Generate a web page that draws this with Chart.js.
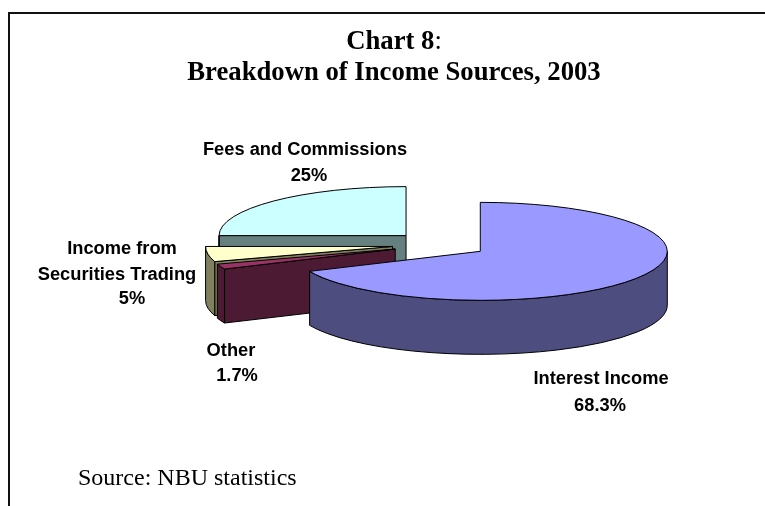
<!DOCTYPE html>
<html>
<head>
<meta charset="utf-8">
<title>Chart 8</title>
<script src="https://cdn.jsdelivr.net/npm/chart.js@4/dist/chart.umd.min.js"></script>
<style>
	html, body { margin: 0; padding: 0; background: #fff; overflow: hidden; }
	#page { position: relative; width: 765px; height: 506px; }
	#pie { position: absolute; left: 0; top: 0; }
	#frame { position: absolute; left: 8px; top: 12px; width: 757px; height: 494px;
		border-top: 2px solid #111; border-left: 2px solid #111; box-sizing: border-box; }
	#title { position: absolute; left: 0; top: 25px; width: 788px; text-align: center;
		font: 26.7px/31px "Liberation Serif", serif; color: #000; }
	#source { position: absolute; left: 78px; top: 462px;
		font: 24px/30px "Liberation Serif", serif; color: #000; }
</style>
</head>
<body>
<div id="page">
	<canvas id="pie" width="765" height="506"></canvas>
	<div id="frame"></div>
	<div id="title"><b>Chart 8</b>:<br><b>Breakdown of Income Sources, 2003</b></div>
	<div id="source">Source: NBU statistics</div>
</div>
<script>
// data, clockwise from 12 o'clock
const categories = ['Interest Income', 'Other', 'Income from Securities Trading', 'Fees and Commissions'];
const shares = [68.3, 1.7, 5, 25];
const shareLabels = ['68.3%', '1.7%', '5%', '25%'];
const topColors = ['#9999ff', '#993366', '#ffffcc', '#ccffff'];
const sideColors = ['#4d4d80', '#4d1a33', '#80805f', '#668080'];

// label lines and where each one sits (center x, baseline y)
const labelLines = [
	[['Interest Income', 601, 384], [shareLabels[0], 600, 411]],
	[['Other', 231, 356], [shareLabels[1], 237, 381]],
	[['Income from', 122, 254], ['Securities Trading', 117, 280], [shareLabels[2], 132, 304]],
	[['Fees and Commissions', 305, 155], [shareLabels[3], 309, 181]]
];

const TILT = 0.262;     // vertical squash of the pie
const EXPLODE = 48;     // how far each slice is pulled out
const DEPTH = 54;       // height of the pie walls
const DRAW_ORDER = [3, 2, 1, 0];    // back to front

function draw_slice(ctx, arc, i) {
	const mid = (arc.startAngle + arc.endAngle) / 2;
	const cx = arc.x + Math.cos(mid) * EXPLODE;
	const cy = arc.y + Math.sin(mid) * EXPLODE * TILT;
	const r = arc.outerRadius;
	const ry = r * TILT;
	const start = arc.startAngle, end = arc.endAngle;

	ctx.fillStyle = sideColors[i];
	ctx.strokeStyle = '#000';
	ctx.lineWidth = 1;
	ctx.lineJoin = 'round';

	// flat side faces, only the ones turned to the viewer
	[[start, Math.cos(start) < 0], [end, Math.cos(end) > 0]].forEach(function(face) {
		if (!face[1]) return;
		const ex = cx + Math.cos(face[0]) * r;
		const ey = cy + Math.sin(face[0]) * ry;
		ctx.beginPath();
		ctx.moveTo(cx, cy);
		ctx.lineTo(ex, ey);
		ctx.lineTo(ex, ey + DEPTH);
		ctx.lineTo(cx, cy + DEPTH);
		ctx.closePath();
		ctx.fill();
		ctx.stroke();
	});

	// curved outer wall, front half only
	const wall_start = Math.max(start, 0);
	const wall_end = Math.min(end, Math.PI);
	if (wall_end > wall_start) {
		ctx.beginPath();
		ctx.ellipse(cx, cy, r, ry, 0, wall_start, wall_end);
		ctx.ellipse(cx, cy + DEPTH, r, ry, 0, wall_end, wall_start, true);
		ctx.closePath();
		ctx.fill();
		ctx.stroke();
	}

	// top face, the element itself drawn through the squash
	ctx.save();
	ctx.translate(cx, cy);
	ctx.scale(1, TILT);
	ctx.translate(-arc.x, -arc.y);
	arc.draw(ctx);
	ctx.restore();

	// outline stroked unsquashed so the line keeps its width
	ctx.beginPath();
	ctx.moveTo(cx, cy);
	ctx.ellipse(cx, cy, r, ry, 0, start, end);
	ctx.closePath();
	ctx.stroke();
}

const tilted_pie = {
	id: 'tilted_pie',
	beforeDatasetsDraw(chart) {
		const meta = chart.getDatasetMeta(0);
		DRAW_ORDER.forEach(function(i) {
			draw_slice(chart.ctx, meta.data[i], i);
		});
		return false;
	},
	// afterDatasetsDraw does not fire once the draw above is cancelled
	afterDraw(chart) {
		const ctx = chart.ctx;
		ctx.save();
		ctx.fillStyle = '#000';
		ctx.font = 'bold 18.3px "Liberation Sans", sans-serif';
		ctx.textAlign = 'center';
		ctx.textBaseline = 'alphabetic';
		labelLines.forEach(function(lines) {
			lines.forEach(function(l) {
				ctx.fillText(l[0], l[1], l[2]);
			});
		});
		ctx.restore();
	}
};

new Chart(document.getElementById('pie'), {
	type: 'pie',
	data: {
		labels: categories,
		datasets: [{
			data: shares,
			backgroundColor: topColors,
			borderWidth: 0
		}]
	},
	options: {
		responsive: false,
		animation: false,
		// leaves a 374px square centred on (440, 244.5) for the pie
		layout: { padding: { left: 253, right: 138, top: 57.5, bottom: 74.5 } },
		plugins: { legend: { display: false }, tooltip: { enabled: false } }
	},
	plugins: [tilted_pie]
});
</script>
</body>
</html>
